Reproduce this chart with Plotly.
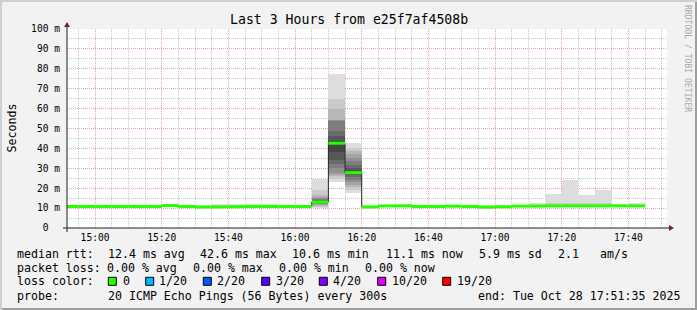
import pandas as pd
import plotly.graph_objects as go

# ---------------- data ----------------
DAY = "2025-10-28"
interval_start = ["14:50", "14:55", "15:00", "15:05", "15:10", "15:15", "15:20", "15:25", "15:30", "15:35",
                  "15:40", "15:45", "15:50", "15:55", "16:00", "16:05", "16:10", "16:15", "16:20", "16:25",
                  "16:30", "16:35", "16:40", "16:45", "16:50", "16:55", "17:00", "17:05", "17:10", "17:15",
                  "17:20", "17:25", "17:30", "17:35", "17:40"]
median_ms = [10.8, 10.8, 10.8, 10.8, 10.8, 10.8, 11.3, 10.8, 10.6, 10.6,
             10.7, 10.8, 10.8, 10.8, 10.8, 13.05, 42.6, 27.8, 10.6, 11.1,
             11.1, 10.8, 10.8, 11.0, 10.8, 10.6, 10.7, 11.0, 11.0, 11.1,
             11.1, 11.1, 11.1, 11.1, 11.1]
ping_max = [11.2, 11.2, 11.2, 11.7, 11.2, 11.2, 11.6, 11.6, 11.0, 12.1,
            12.1, 12.1, 12.1, 11.2, 11.2, 24.4, 77.4, 42.8, 11.0, 11.5,
            12.1, 11.6, 11.2, 11.4, 11.6, 11.0, 11.1, 11.8, 12.5, 17.2,
            23.9, 16.7, 19.2, 12.1, 12.8]
ping_min = [10.4, 10.4, 10.4, 10.4, 10.4, 10.4, 10.9, 10.4, 10.2, 10.2,
            10.3, 10.4, 10.4, 10.4, 10.4, 10.3, 23.0, 17.5, 10.2, 10.7,
            10.7, 10.4, 10.4, 10.4, 10.4, 9.3, 10.3, 10.6, 10.6, 10.7,
            10.7, 10.7, 10.7, 10.7, 10.7]
ping_max2 = [11.0, 11.0, 11.0, 11.2, 11.0, 11.0, 11.5, 11.1, 10.9, 11.2,
             11.2, 11.2, 11.2, 11.0, 11.0, 19.2, 65.0, 40.3, 10.9, 11.3,
             11.4, 11.1, 11.0, 11.2, 11.1, 10.9, 11.0, 11.3, 11.6, 12.5,
             12.6, 12.6, 12.5, 11.5, 11.6]
ping_min2 = [10.5, 10.5, 10.5, 10.5, 10.5, 10.5, 11.0, 10.5, 10.3, 10.3,
             10.4, 10.5, 10.5, 10.5, 10.5, 10.8, 24.5, 19.2, 10.3, 10.8,
             10.8, 10.5, 10.5, 10.6, 10.5, 9.8, 10.4, 10.7, 10.7, 10.8,
             10.8, 10.8, 10.8, 10.8, 10.8]
# sorted 20 pings for the intervals where the full smoke is visible
pings_1605 = [10.3, 10.8, 11.2, 11.6, 12.0, 12.3, 12.6, 12.8, 12.9, 13.0,
              13.1, 13.3, 13.6, 14.1, 14.6, 15.0, 15.8, 16.7, 19.2, 24.4]
pings_1610 = [23.0, 24.5, 25.9, 26.5, 27.6, 30.1, 32.0, 34.3, 38.0, 42.2,
              43.0, 43.6, 46.0, 48.6, 54.0, 54.3, 54.5, 60.0, 65.0, 77.4]
pings_1615 = [17.5, 19.2, 20.5, 21.7, 23.0, 24.2, 25.5, 26.5, 27.2, 27.6,
              28.0, 28.8, 30.0, 31.8, 33.5, 35.2, 37.0, 38.5, 40.3, 42.8]

x_tick_labels = ["15:00", "15:20", "15:40", "16:00", "16:20", "16:40", "17:00", "17:20", "17:40"]
y_tick_vals = [0, 10, 20, 30, 40, 50, 60, 70, 80, 90, 100]
y_tick_text = ["0\u00a0\u00a0", "10 m", "20 m", "30 m", "40 m", "50 m", "60 m", "70 m", "80 m", "90 m", "100 m"]

title_text = "Last 3 Hours from e25f7af4508b"
rtt_stats = ["12.4 ms avg", "42.6 ms max", "10.6 ms min", "11.1 ms now", "5.9 ms sd", "2.1", "am/s"]
loss_stats = ["0.00 % avg", "0.00 % max", "0.00 % min", "0.00 % now"]
loss_labels = ["0", "1/20", "2/20", "3/20", "4/20", "10/20", "19/20"]
loss_colors = ["#26ff00", "#00b8ff", "#0059ff", "#5e00ff", "#7e00ff", "#dd00ff", "#ff0000"]
probe_text = "20 ICMP Echo Pings (56 Bytes) every 300s"
end_text = "end: Tue Oct 28 17:51:35 2025"
range_start = "2025-10-28 14:51:35"
range_end = "2025-10-28 17:51:35"

# ---------------- geometry ----------------
W_IMG, H_IMG = 697, 310
L, T = 67, 29
PW, PH = 600, 199
R = W_IMG - L - PW
B = H_IMG - T - PH
Y0 = T + PH  # pixel row of the x axis

def fx(px):
    return (px - L) / PW

def fy(py):
    return (Y0 - py) / PH

MONO = "DejaVu Sans Mono"
STEP = pd.Timedelta(minutes=5)
starts = [pd.Timestamp(f"{DAY} {s}") for s in interval_start]
centers = [s + STEP / 2 for s in starts]
full_pings = {"16:05": pings_1605, "16:10": pings_1610, "16:15": pings_1615}

fig = go.Figure()

# smoke (nested rank bands, smokeping style)
for lvl in range(1, 11):
    g = int(190 / 10 * (10 - lvl)) + 50
    col = f"rgb({g},{g},{g})"
    bases, heights = [], []
    for i, lab in enumerate(interval_start):
        if lab in full_pings:
            p = full_pings[lab]
            lo, hi = p[lvl - 1], p[20 - lvl]
        elif lvl == 1:
            lo, hi = ping_min[i], ping_max[i]
        elif lvl == 2:
            lo, hi = ping_min2[i], ping_max2[i]
        else:
            lo = hi = None
        if lo is None:
            bases.append(None)
            heights.append(None)
        else:
            bases.append(lo)
            heights.append(hi - lo)
    fig.add_trace(go.Bar(x=centers, y=heights, base=bases, width=STEP.total_seconds() * 1000,
                         marker=dict(color=col, line=dict(width=0)), hoverinfo="skip", showlegend=False))

# dark vertical joins of the median
vx, vy = [], []
for i in range(1, len(starts)):
    if median_ms[i] != median_ms[i - 1]:
        vx += [starts[i], starts[i], None]
        vy += [median_ms[i - 1], median_ms[i], None]
fig.add_trace(go.Scatter(x=vx, y=vy, mode="lines", line=dict(color="#2a2a2a", width=1),
                         hoverinfo="skip", showlegend=False))

# median (loss colour 0 -> green)
gx, gy = [], []
for s, m in zip(starts, median_ms):
    gx += [s, s + STEP, None]
    gy += [m, m, None]
fig.add_trace(go.Scatter(x=gx, y=gy, mode="lines", line=dict(color=loss_colors[0], width=3),
                         hoverinfo="skip", showlegend=False))

major_grid = "#eda2a2"
minor_grid = "#c8c8c8"
tick_font = dict(family=MONO, size=9.6, color="#000000")

fig.update_layout(
    width=W_IMG, height=H_IMG, autosize=False,
    margin=dict(l=L, r=R, t=T, b=B, pad=0),
    paper_bgcolor="#f2f2f2", plot_bgcolor="#ffffff",
    barmode="overlay", bargap=0, showlegend=False,
    xaxis=dict(type="date", range=[range_start, range_end], tickmode="array",
               tickvals=[pd.Timestamp(f"{DAY} {t}") for t in x_tick_labels], ticktext=x_tick_labels,
               showgrid=True, gridcolor=major_grid, griddash="1px,1px", gridwidth=1,
               minor=dict(tickmode="linear", tick0=f"{DAY} 15:00", dtick=300000, showgrid=True,
                          gridcolor=minor_grid, griddash="1px,1px", gridwidth=1),
               ticks="", showline=False, zeroline=False, tickfont=tick_font, ticklabelstandoff=2,
               fixedrange=True),
    yaxis=dict(range=[0, 100], tickmode="array", tickvals=y_tick_vals, ticktext=y_tick_text,
               showgrid=True, gridcolor=major_grid, griddash="1px,1px", gridwidth=1,
               minor=dict(tickmode="linear", tick0=0, dtick=5, showgrid=True,
                          gridcolor=minor_grid, griddash="1px,1px", gridwidth=1),
               ticks="", showline=False, zeroline=False, tickfont=tick_font, ticklabelstandoff=6,
               fixedrange=True),
)

shapes = []
# axes
shapes.append(dict(type="line", xref="paper", yref="paper", x0=fx(L - 4), x1=fx(L + PW + 4), y0=0, y1=0,
                   line=dict(color="#1f1f1f", width=1)))
shapes.append(dict(type="line", xref="paper", yref="paper", x0=0, x1=0, y0=fy(Y0 + 4), y1=fy(T - 4),
                   line=dict(color="#1f1f1f", width=1)))
# arrows
shapes.append(dict(type="path", xref="paper", yref="paper",
                   path=f"M {fx(L+PW+2)} {fy(Y0-3)} L {fx(L+PW+2)} {fy(Y0+3)} L {fx(L+PW+7)} {fy(Y0)} Z",
                   fillcolor="#801f1f", line=dict(width=0)))
shapes.append(dict(type="path", xref="paper", yref="paper",
                   path=f"M {fx(L-3)} {fy(T-2)} L {fx(L+3)} {fy(T-2)} L {fx(L)} {fy(T-7)} Z",
                   fillcolor="#801f1f", line=dict(width=0)))
# 3d border
shapes.append(dict(type="rect", xref="paper", yref="paper", x0=fx(0), x1=fx(W_IMG), y0=fy(0), y1=fy(2),
                   fillcolor="#cfcfcf", line=dict(width=0)))
shapes.append(dict(type="rect", xref="paper", yref="paper", x0=fx(0), x1=fx(2), y0=fy(0), y1=fy(H_IMG),
                   fillcolor="#cfcfcf", line=dict(width=0)))
shapes.append(dict(type="rect", xref="paper", yref="paper", x0=fx(2), x1=fx(W_IMG), y0=fy(H_IMG - 2), y1=fy(H_IMG),
                   fillcolor="#9e9e9e", line=dict(width=0)))
shapes.append(dict(type="rect", xref="paper", yref="paper", x0=fx(W_IMG - 2), x1=fx(W_IMG), y0=fy(2), y1=fy(H_IMG),
                   fillcolor="#9e9e9e", line=dict(width=0)))
# loss colour boxes
box_x = [108.3, 145.7, 203.3, 261.7, 319.3, 377.7, 442.7]
for bx, c in zip(box_x, loss_colors):
    shapes.append(dict(type="rect", xref="paper", yref="paper", x0=fx(bx), x1=fx(bx + 8),
                       y0=fy(277.3), y1=fy(285.3), fillcolor=c, line=dict(color="#000000", width=1)))
fig.update_layout(shapes=shapes)

ann = []

def text(px, py, s, size=11.6, anchor="left", color="#000000", angle=0, yanchor="middle"):
    ann.append(dict(xref="paper", yref="paper", x=fx(px), y=fy(py), text=s, showarrow=False,
                    xanchor=anchor, yanchor=yanchor, textangle=angle, borderpad=0, borderwidth=0,
                    font=dict(family=MONO, size=size, color=color)))

text(348.5, 19.5, title_text, size=13.2, anchor="center")
text(11, 128.5, "Seconds", size=11.6, anchor="center", angle=-90)
text(688.5, 58.5, "RRDTOOL / TOBI OETIKER", size=8.1, anchor="center", angle=90, color="#a8a8a8")

row_y = [254, 268, 281.3, 295.7]
text(16.7, row_y[0], "median rtt:")
for xx, s in zip([107.7, 200, 292.3, 386.3, 478.5, 557.7, 599.7], rtt_stats):
    text(xx, row_y[0], s)
text(16.7, row_y[1], "packet loss:")
for xx, s in zip([106.7, 193.3, 279.3, 365.3], loss_stats):
    text(xx, row_y[1], s)
text(16.7, row_y[2], "loss color:")
for xx, s in zip([123.3, 159.3, 217.3, 276, 333.3, 392, 457], loss_labels):
    text(xx, row_y[2], s)
text(16.7, row_y[3], "probe:")
text(107.7, row_y[3], probe_text)
text(478, row_y[3], end_text)
fig.update_layout(annotations=ann)

fig.write_html("out.html")
